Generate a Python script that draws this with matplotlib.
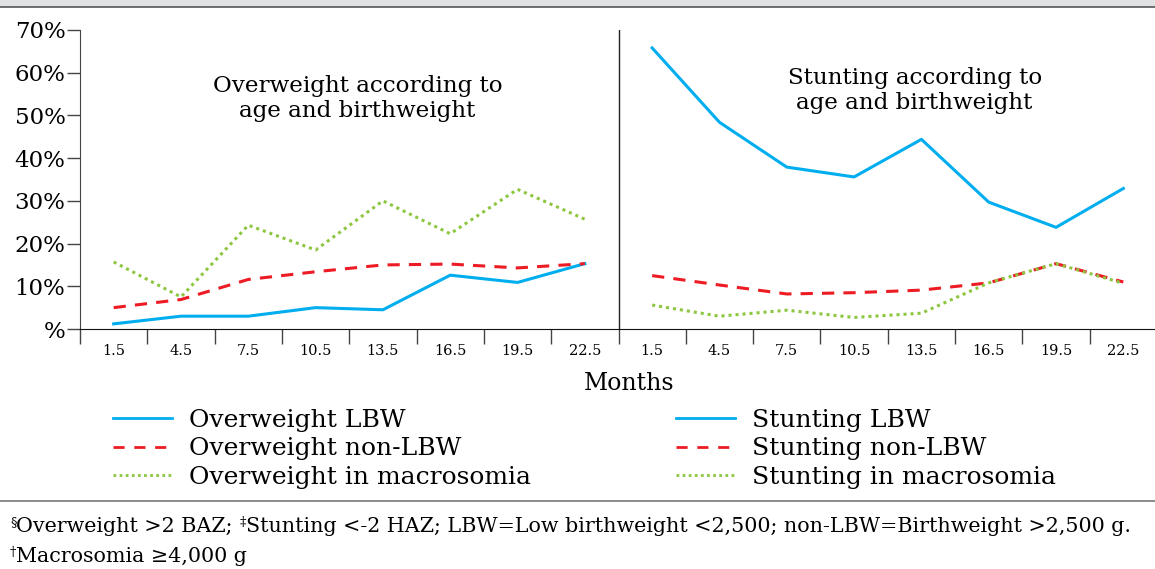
import matplotlib
matplotlib.use("Agg")
import matplotlib.pyplot as plt
import numpy as np
from matplotlib.lines import Line2D
from matplotlib.patches import Rectangle

plt.rcParams["font.family"] = ["DejaVu Serif"]

# data
months = ["1.5", "4.5", "7.5", "10.5", "13.5", "16.5", "19.5", "22.5"]
ow_lbw = [1.2, 3.0, 3.0, 5.0, 4.5, 12.6, 10.9, 15.3]
ow_nonlbw = [5.0, 6.9, 11.6, 13.4, 15.0, 15.2, 14.3, 15.3]
ow_macro = [15.7, 7.5, 24.3, 18.5, 30.0, 22.3, 32.7, 25.7]
st_lbw = [65.8, 48.4, 37.9, 35.6, 44.4, 29.7, 23.8, 32.9]
st_nonlbw = [12.5, 10.3, 8.2, 8.5, 9.1, 10.8, 15.3, 11.0]
st_macro = [5.6, 3.0, 4.4, 2.7, 3.7, 10.8, 15.3, 10.7]
y_ticks = [0, 10, 20, 30, 40, 50, 60, 70]
y_labels = ["%", "10%", "20%", "30%", "40%", "50%", "60%", "70%"]

blue = "#00aeef"
red = "#ed1c24"
green = "#8dc63f"
lw = 2.2
dash = (0, (4, 3))
dot = (0, (1, 1.3))

W, H = 1155, 569
fig = plt.figure(figsize=(W / 100, H / 100), dpi=100)
ax = fig.add_axes([80 / W, (H - 329) / H, 1077 / W, 299 / H])

n = len(months)
x_left = np.arange(n) + 0.5
x_right = x_left + n

ax.plot(x_left, ow_lbw, color=blue, lw=lw)
ax.plot(x_left, ow_nonlbw, color=red, lw=lw, linestyle=dash)
ax.plot(x_left, ow_macro, color=green, lw=lw, linestyle=dot)
ax.plot(x_right, st_lbw, color=blue, lw=lw)
ax.plot(x_right, st_nonlbw, color=red, lw=lw, linestyle=dash)
ax.plot(x_right, st_macro, color=green, lw=lw, linestyle=dot)

ax.axvline(n, color="#222222", lw=1.0)

ax.set_xlim(0, 2 * n)
ax.set_ylim(0, 70)
ax.set_yticks(y_ticks)
ax.set_yticklabels(y_labels, fontsize=16.5)
ax.tick_params(axis="y", length=9.5, width=1.0, color="#444444", pad=1)

ax.set_xticks(np.arange(0, 2 * n + 1))
ax.set_xticklabels([])
ax.tick_params(axis="x", which="major", length=11, width=1.0, color="#444444")
ax.set_xticks(np.concatenate([x_left, x_right]), minor=True)
ax.set_xticklabels(months + months, minor=True, fontsize=10.5)
ax.tick_params(axis="x", which="minor", length=0, pad=11)

for s in ["top", "right"]:
    ax.spines[s].set_visible(False)
ax.spines["left"].set_color("#444444")
ax.spines["bottom"].set_color("#111111")

ax.text(4.12, 54.0, "Overweight according to\nage and birthweight",
        ha="center", va="center", fontsize=16.6, linespacing=1.2)
ax.text(12.4, 55.8, "Stunting according to\nage and birthweight",
        ha="center", va="center", fontsize=16.6, linespacing=1.2)

fig.text(629 / W, 1 - 384 / H, "Months", ha="center", va="center", fontsize=17)

# legends
h_blue = Line2D([], [], color=blue, lw=2)
h_red = Line2D([], [], color=red, lw=2, linestyle=(0, (4, 3.5)))
h_green = Line2D([], [], color=green, lw=2, linestyle=(0, (1, 1.2)))
leg_kw = dict(frameon=False, fontsize=18, handlelength=2.35, handletextpad=0.68,
              labelspacing=0.22, borderpad=0, borderaxespad=0, loc="upper left")
fig.legend([h_blue, h_red, h_green],
           ["Overweight LBW", "Overweight non-LBW", "Overweight in macrosomia"],
           bbox_to_anchor=(113 / W, 1 - 409 / H), **leg_kw)
fig.legend([h_blue, h_red, h_green],
           ["Stunting LBW", "Stunting non-LBW", "Stunting in macrosomia"],
           bbox_to_anchor=(676 / W, 1 - 409 / H), **leg_kw)

# top band and separator
fig.patches.append(Rectangle((0, 1 - 7 / H), 1, 7 / H, transform=fig.transFigure,
                             facecolor="#e1e2e3", edgecolor="none"))
fig.lines.append(Line2D([0, 1], [1 - 7 / H, 1 - 7 / H], transform=fig.transFigure,
                        color="#555555", lw=1.2))
fig.lines.append(Line2D([0, 1], [1 - 501 / H, 1 - 501 / H], transform=fig.transFigure,
                        color="#777777", lw=1.2))


# footnote with raised symbols
def rich_line(pieces, x0, y0, size=14.9):
    fig.canvas.draw()
    r = fig.canvas.get_renderer()
    x = x0
    for txt, sup in pieces:
        fs = size * 0.62 if sup else size
        dy = 6 / H if sup else 0
        t = fig.text(x, y0 + dy, txt, fontsize=fs, ha="left", va="baseline")
        bb = t.get_window_extent(renderer=r)
        x += bb.width / W


base1 = 1 - 532 / H
rich_line([("§", True), ("Overweight >2 BAZ; ", False), ("‡", True),
           ("Stunting <-2 HAZ; LBW=Low birthweight <2,500; non-LBW=Birthweight >2,500 g.", False)],
          10 / W, base1)
rich_line([("†", True), ("Macrosomia ≥4,000 g", False)], 10 / W, 1 - 562 / H)

fig.savefig("out.png", dpi=100)
